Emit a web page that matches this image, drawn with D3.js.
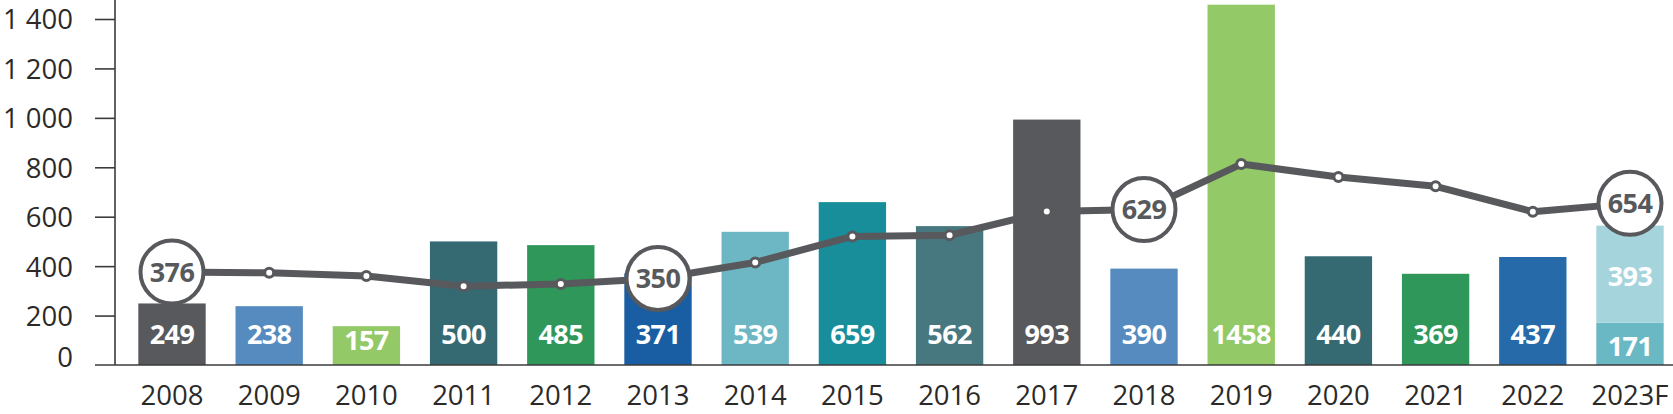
<!DOCTYPE html>
<html>
<head>
<meta charset="utf-8">
<script src="https://cdn.jsdelivr.net/npm/d3@7"></script>
<style>
  html, body { margin: 0; padding: 0; background: #ffffff; }
  svg { display: block; }
  text { font-family: "Open Sans", "Noto Sans", sans-serif; }
</style>
</head>
<body>
<svg id="chart" width="1673" height="414"></svg>
<script>
// ---- data ----
const years = ["2008","2009","2010","2011","2012","2013","2014","2015","2016","2017","2018","2019","2020","2021","2022","2023F"];
const barValues = [249, 238, 157, 500, 485, 371, 539, 659, 562, 993, 390, 1458, 440, 369, 437, 171];
const barExtra  = [0, 0, 0, 0, 0, 0, 0, 0, 0, 0, 0, 0, 0, 0, 0, 393];
const barColors = ["#58595c","#568bc0","#93c967","#366a73","#2e9759","#195ea3","#6db7c5","#188e9b","#47787f","#58595c","#568bc0","#93c967","#366a73","#2e9759","#276aa9","#6bb8c5"];
const extraColors = ["#a6d4dc"];
const lineValues = [376, 373, 360, 319, 328, 350, 415, 520, 525, 621, 629, 813, 761, 723, 620, 654];
const highlighted = ["2008","2013","2018","2023F"];
const yTicks = [0, 200, 400, 600, 800, 1000, 1200, 1400];

// ---- scales ----
const svg = d3.select("#chart");
const x = d3.scaleBand().domain(years).range([123.4, 1678.6]).paddingInner(0.307).paddingOuter(0.1535);
const y = d3.scaleLinear().domain([0, 1400]).range([365, 19]);
const tickFmt = d3.formatLocale({decimal: ",", thousands: " ", grouping: [3], currency: ["", ""]}).format(",d");
const grey = "#58595c";
const axisCol = "#3b3b3b";
const textCol = "#2b2a29";

// ---- y axis ----
const yAxis = d3.axisLeft(y).tickValues(yTicks).tickSize(20).tickPadding(22).tickFormat(tickFmt);
const gy = svg.append("g").attr("transform", "translate(115,0)").call(yAxis);
gy.select(".domain").remove();
gy.selectAll(".tick line").attr("stroke", axisCol).attr("stroke-width", 1.6);
gy.selectAll(".tick").filter(d => d === 0).select("line").remove();
gy.selectAll(".tick text")
  .attr("fill", textCol)
  .attr("font-size", 27.5)
  .attr("dy", "0.36em")
  .attr("y", d => d === 0 ? -8 : 0);
// vertical axis line
svg.append("line").attr("x1", 115).attr("x2", 115).attr("y1", 0).attr("y2", y(0))
  .attr("stroke", axisCol).attr("stroke-width", 1.6);

// ---- bars ----
svg.append("g").selectAll("rect").data(years).join("rect")
  .attr("x", d => x(d))
  .attr("width", x.bandwidth())
  .attr("y", (d, i) => y(barValues[i]))
  .attr("height", (d, i) => y(0) - y(barValues[i]))
  .attr("fill", (d, i) => barColors[i]);

svg.append("g").selectAll("rect").data(years.filter((d, i) => barExtra[i] > 0)).join("rect")
  .attr("x", d => x(d))
  .attr("width", x.bandwidth())
  .attr("y", d => { const i = years.indexOf(d); return y(barValues[i] + barExtra[i]); })
  .attr("height", d => { const i = years.indexOf(d); return y(barValues[i]) - y(barValues[i] + barExtra[i]); })
  .attr("fill", extraColors[0]);

// baseline
svg.append("line").attr("x1", 95).attr("x2", 1673).attr("y1", y(0)).attr("y2", y(0))
  .attr("stroke", axisCol).attr("stroke-width", 1.6);

// bar labels
svg.append("g").selectAll("text").data(years).join("text")
  .attr("x", d => x(d) + x.bandwidth() / 2)
  .attr("y", (d, i) => {
    const mid = (y(0) + y(barValues[i])) / 2;
    return barExtra[i] > 0 ? mid + 2 : Math.max(334, mid - 5);
  })
  .attr("dy", "0.36em")
  .attr("text-anchor", "middle")
  .attr("fill", "#ffffff")
  .attr("font-size", 27)
  .attr("font-weight", 700)
  .attr("letter-spacing", -0.6)
  .text((d, i) => barValues[i]);

svg.append("g").selectAll("text").data(years.filter((d, i) => barExtra[i] > 0)).join("text")
  .attr("x", d => x(d) + x.bandwidth() / 2)
  .attr("y", d => { const i = years.indexOf(d); return (y(barValues[i]) + y(barValues[i] + barExtra[i])) / 2 + 2; })
  .attr("dy", "0.36em")
  .attr("text-anchor", "middle")
  .attr("fill", "#ffffff")
  .attr("font-size", 27)
  .attr("font-weight", 700)
  .attr("letter-spacing", -0.6)
  .text(d => barExtra[years.indexOf(d)]);

// x labels
svg.append("g").selectAll("text").data(years).join("text")
  .attr("x", d => x(d) + x.bandwidth() / 2)
  .attr("y", 404.5)
  .attr("text-anchor", "middle")
  .attr("fill", textCol)
  .attr("font-size", 27.5)
  .text(d => d);

// ---- line ----
const cx = d => x(d) + x.bandwidth() / 2;
const line = d3.line().x(d => cx(d)).y((d, i) => y(lineValues[i])).curve(d3.curveLinear);
svg.append("path").datum(years).attr("d", line)
  .attr("fill", "none").attr("stroke", grey).attr("stroke-width", 7).attr("stroke-linejoin", "round");

// small dots
svg.append("g").selectAll("circle").data(years.filter(d => !highlighted.includes(d))).join("circle")
  .attr("cx", d => cx(d))
  .attr("cy", d => y(lineValues[years.indexOf(d)]))
  .attr("r", 4.5)
  .attr("fill", "#ffffff")
  .attr("stroke", grey)
  .attr("stroke-width", 3);

// highlighted circles
const hg = svg.append("g").selectAll("g").data(highlighted).join("g")
  .attr("transform", d => `translate(${cx(d)},${y(lineValues[years.indexOf(d)])})`);
hg.append("circle").attr("r", 31.5).attr("fill", "#ffffff").attr("stroke", grey).attr("stroke-width", 4);
hg.append("text")
  .attr("text-anchor", "middle")
  .attr("dy", "0.36em")
  .attr("fill", grey)
  .attr("font-size", 27)
  .attr("font-weight", 700)
  .attr("letter-spacing", -0.6)
  .text(d => lineValues[years.indexOf(d)]);
</script>
</body>
</html>
